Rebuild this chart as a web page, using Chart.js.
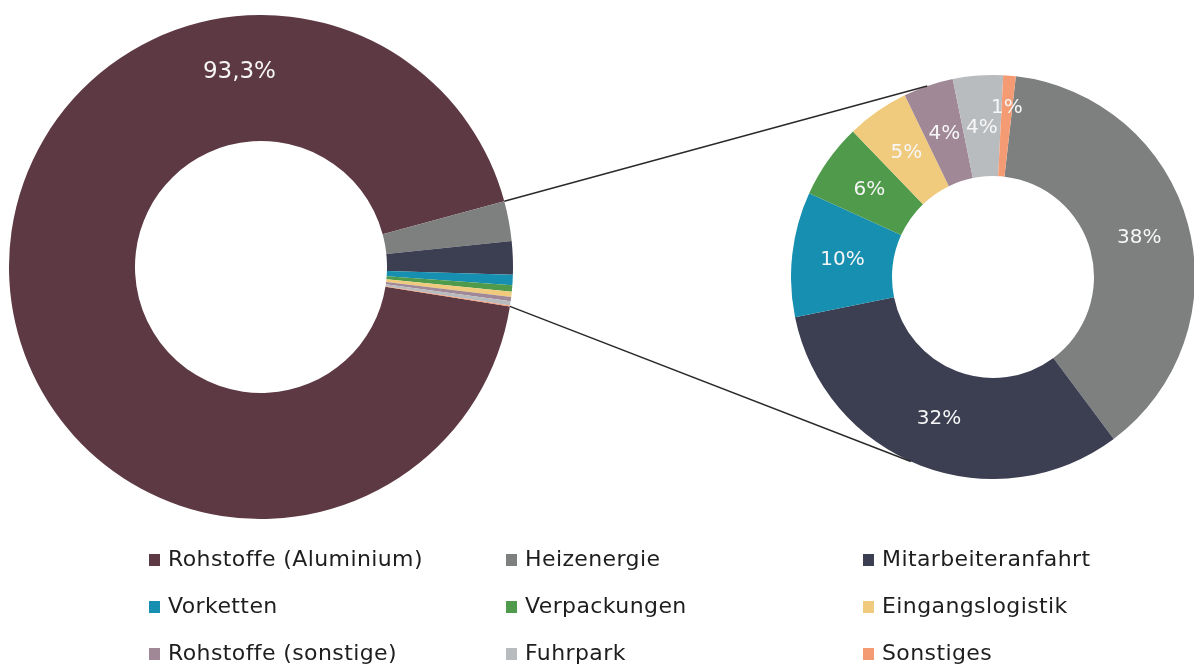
<!DOCTYPE html>
<html>
<head>
<meta charset="utf-8">
<script src="https://cdn.jsdelivr.net/npm/chart.js@4.4.0/dist/chart.umd.min.js"></script>
<style>
    body { margin: 0; width: 1194px; height: 668px; overflow: hidden; background: #fff; position: relative;
           font-family: "DejaVu Sans", Verdana, sans-serif; }
    #grafIzq { position: absolute; left: 9px; top: 15px; }
    #grafDer { position: absolute; left: 791px; top: 75px; }
    #lineas { position: absolute; left: 0; top: 0; pointer-events: none; }
    #leyenda { position: absolute; left: 149px; top: 535px; display: grid;
               grid-template-columns: 357px 357px 300px; grid-auto-rows: 47px; }
    .item { display: flex; align-items: center; font-size: 22px; letter-spacing: 0.4px; color: #1e1e1e; white-space: nowrap; }
    .caja { width: 11px; height: 12px; margin-right: 8px; margin-top: 2px; }
</style>
</head>
<body>
<canvas id="grafIzq" width="504" height="504"></canvas>
<canvas id="grafDer" width="404" height="404"></canvas>
<canvas id="lineas" width="1194" height="668"></canvas>
<div id="leyenda"></div>
<script>
// categorias (orden de la leyenda)
const categorias = ['Rohstoffe (Aluminium)', 'Heizenergie', 'Mitarbeiteranfahrt',
                    'Vorketten', 'Verpackungen', 'Eingangslogistik',
                    'Rohstoffe (sonstige)', 'Fuhrpark', 'Sonstiges'];
const colores = ['#5d3944', '#7d807f', '#3c3e52', '#178fb0', '#509b4b', '#f0cb7d', '#a08896', '#b9bcbe', '#f59b73'];

// grafica izquierda: total en %
const valoresTotal = [93.3, 2.55, 2.14, 0.67, 0.40, 0.34, 0.27, 0.27, 0.06];
// grafica derecha: desglose del resto en %
const categoriasResto = categorias.slice(1);
const valoresResto = [38, 32, 10, 6, 5, 4, 4, 1];

const etiquetasPlugin = {
    id: 'etiquetas',
    afterDatasetsDraw(chart, args, opts) {
        const ctx = chart.ctx;
        const arcos = chart.getDatasetMeta(0).data;
        ctx.save();
        ctx.font = opts.size + 'px "DejaVu Sans"';
        ctx.fillStyle = '#f6f6f6';
        ctx.textAlign = 'center';
        ctx.textBaseline = 'middle';
        opts.textos.forEach((txt, i) => {
            if (!txt) return;
            const arco = arcos[i];
            let ang = (arco.startAngle + arco.endAngle) / 2;
            if (opts.angulos && opts.angulos[i] != null) ang = opts.angulos[i] * Math.PI / 180 - Math.PI / 2;
            let f = 0.5;
            if (opts.radios && opts.radios[i] != null) f = opts.radios[i];
            const r = arco.innerRadius + f * (arco.outerRadius - arco.innerRadius);
            ctx.fillText(txt, arco.x + r * Math.cos(ang), arco.y + r * Math.sin(ang));
        });
        ctx.restore();
    }
};

function opciones(rotacion, textos, size, angulos, radios) {
    return {
        responsive: false,
        animation: false,
        rotation: rotacion,
        cutout: '50%',
        layout: { padding: 0 },
        plugins: {
            legend: { display: false },
            tooltip: { enabled: false },
            etiquetas: { textos: textos, size: size, angulos: angulos, radios: radios }
        }
    };
}

const grafIzq = new Chart(document.querySelector('#grafIzq'), {
    type: 'doughnut',
    data: {
        labels: categorias,
        datasets: [{ data: valoresTotal, backgroundColor: colores, borderWidth: 0, hoverOffset: 0 }]
    },
    options: opciones(99, valoresTotal.map((v, i) => i === 0 ? v.toFixed(1).replace('.', ',') + '%' : ''), 23, [353.7], [0.56]),
    plugins: [etiquetasPlugin]
});

const grafDer = new Chart(document.querySelector('#grafDer'), {
    type: 'doughnut',
    data: {
        labels: categoriasResto,
        datasets: [{ data: valoresResto, backgroundColor: colores.slice(1), borderWidth: 0, hoverOffset: 0 }]
    },
    options: opciones(6.5, valoresResto.map(v => v + '%'), 20, null, [, , , , , , 0.48, 0.68]),
    plugins: [etiquetasPlugin]
});

// lineas de conexion entre las dos graficas
(function () {
    const lienzo = document.querySelector('#lineas');
    const ctx = lienzo.getContext('2d');
    const izq = grafIzq.getDatasetMeta(0).data;
    const der = grafDer.getDatasetMeta(0).data[0];
    const cIzq = grafIzq.canvas, cDer = grafDer.canvas;

    const enArco = (arco, cv, ang) => ({
        x: cv.offsetLeft + arco.x + arco.outerRadius * Math.cos(ang),
        y: cv.offsetTop + arco.y + arco.outerRadius * Math.sin(ang)
    });
    const grados = g => g * Math.PI / 180 - Math.PI / 2;

    const p1 = enArco(izq[1], cIzq, izq[1].startAngle);
    const p2 = enArco(izq[izq.length - 1], cIzq, izq[izq.length - 1].endAngle);
    const q1 = enArco(der, cDer, grados(341));
    const q2 = enArco(der, cDer, grados(204));

    ctx.strokeStyle = '#2a2a2a';
    ctx.lineWidth = 1.5;
    ctx.beginPath();
    ctx.moveTo(p1.x, p1.y); ctx.lineTo(q1.x, q1.y);
    ctx.moveTo(p2.x, p2.y); ctx.lineTo(q2.x, q2.y);
    ctx.stroke();
})();

// leyenda
const leyenda = document.querySelector('#leyenda');
categorias.forEach((c, i) => {
    const item = document.createElement('div');
    item.className = 'item';
    item.innerHTML = '<span class="caja" style="background:' + colores[i] + '"></span>' + c;
    leyenda.appendChild(item);
});
</script>
</body>
</html>
